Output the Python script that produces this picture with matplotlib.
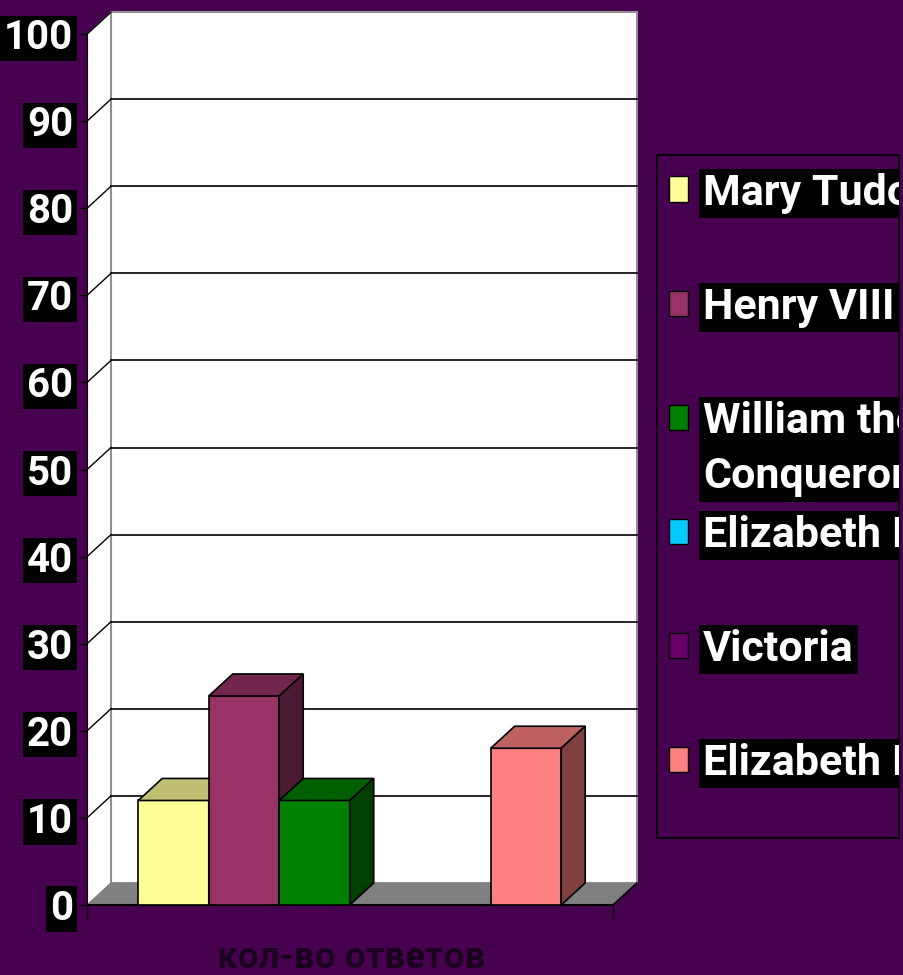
import matplotlib
matplotlib.use("Agg")
import matplotlib.pyplot as plt
from matplotlib.patches import Polygon, Rectangle
from matplotlib.transforms import Bbox, TransformedBbox
from matplotlib.colors import to_rgb

plt.rcParams['font.family'] = ['Roboto', 'DejaVu Sans']

# data
names = ['Mary Tudor', 'Henry VIII', 'William the\nConqueror', 'Elizabeth I', 'Victoria', 'Elizabeth II']
values = [12, 24, 12, 0, 0, 18]
colors = ['#FFFF99', '#993366', '#008000', '#00CCFF', '#660066', '#FF8080']
yticks = list(range(0, 101, 10))
xlabel = 'кол-во ответов'

bg = '#47004F'
W, H = 904, 975

fig = plt.figure(figsize=(W / 100, H / 100), dpi=100, facecolor=bg)
ax = fig.add_axes([87 / W, 70 / H, 563 / W, 897 / H])
ax.set_facecolor('none')

x0, x1 = -1.227, 6.234   # front floor edges
dx, dy = 0.34, 2.53      # depth offset
ax.set_xlim(x0, 6.759)
ax.set_ylim(0, 103.0)

# walls
side = Polygon([(x0, 0), (x0 + dx, dy), (x0 + dx, 100 + dy), (x0, 100)],
               closed=True, facecolor='white', edgecolor='#909090', lw=1, zorder=1)
back = Polygon([(x0 + dx, dy), (x1 + dx, dy), (x1 + dx, 100 + dy), (x0 + dx, 100 + dy)],
               closed=True, facecolor='white', edgecolor='#909090', lw=1.5, zorder=1)
floor = Polygon([(x0, 0), (x1, 0), (x1 + dx, dy), (x0 + dx, dy)],
                closed=True, facecolor='#808080', edgecolor='none', zorder=1.5)
ax.add_patch(side)
ax.add_patch(back)
ax.add_patch(floor)

for v in yticks[1:-1]:
    ax.plot([x0 + dx, x1 + dx], [v + dy, v + dy], color='black', lw=1.2, zorder=1.2)
for v in yticks[1:]:
    ax.plot([x0, x0 + dx], [v, v + dy], color='black', lw=1, zorder=1.2)
ax.plot([x0, x1], [0, 0], color='black', lw=1.5, zorder=1.6, clip_on=False)
ax.plot([x1, x1 + dx], [0, dy], color='black', lw=1.2, zorder=1.6)


def shade(c, f):
    r, g, b = to_rgb(c)
    return (r * f, g * f, b * f)


xs = list(range(len(values)))
for i, (x, v, c) in enumerate(zip(xs, values, colors)):
    z = 3 + i
    if v <= 0:
        continue
    ax.bar(x, v, width=1, color=c, edgecolor='black', lw=1.2, zorder=z)
    top = Polygon([(x - 0.5, v), (x + 0.5, v), (x + 0.5 + dx, v + dy), (x - 0.5 + dx, v + dy)],
                  closed=True, facecolor=shade(c, 0.75), edgecolor='black', lw=1.2, zorder=z)
    rside = Polygon([(x + 0.5, 0), (x + 0.5 + dx, dy), (x + 0.5 + dx, v + dy), (x + 0.5, v)],
                    closed=True, facecolor=shade(c, 0.5), edgecolor='black', lw=1.2, zorder=z)
    ax.add_patch(top)
    ax.add_patch(rside)

for s in ['top', 'right', 'bottom']:
    ax.spines[s].set_visible(False)
ax.spines['left'].set_bounds(0, 100)
ax.spines['left'].set_color('black')
ax.spines['left'].set_zorder(1.7)

ax.set_yticks(yticks)
ax.set_yticklabels([str(t) for t in yticks], color='white', fontsize=29, fontweight='bold')
for lbl in ax.get_yticklabels():
    lbl.set_bbox(dict(facecolor='black', edgecolor='none', pad=2.5))
ax.tick_params(axis='y', length=6, width=1, color='black', pad=4)

ax.set_xticks([x0, x1])
ax.set_xticklabels(['', ''])
ax.tick_params(axis='x', length=10, width=1, color='black')

fig.text(351 / W, 1 - 968 / H, xlabel, color='#1A001E', fontsize=26.5, fontweight='bold',
         ha='center', va='baseline')

# legend
lx0, lx1, ly0, ly1 = 657, 899, 155, 838
fig.add_artist(Rectangle((lx0 / W, 1 - ly1 / H), (lx1 - lx0) / W, (ly1 - ly0) / H,
                         transform=fig.transFigure, facecolor='none', edgecolor='black', lw=1.3))
clip = TransformedBbox(Bbox.from_extents(lx0 / W, 0, lx1 / W, 1), fig.transFigure)
for i, (name, c) in enumerate(zip(names, colors)):
    yc = 189 + 114 * i
    fig.add_artist(Rectangle((669 / W, 1 - (yc + 12.5) / H), 19 / W, 25 / H,
                             transform=fig.transFigure, facecolor=c, edgecolor='black', lw=1))
    t = fig.text(703 / W, 1 - (yc - 16) / H, name, color='white', fontsize=31,
                 fontweight='bold', ha='left', va='top', linespacing=1.45,
                 bbox=dict(facecolor='black', edgecolor='none', pad=3))
    t.set_clip_on(True)
    t.set_clip_box(clip)

fig.savefig('out.png', dpi=100, facecolor=bg)
